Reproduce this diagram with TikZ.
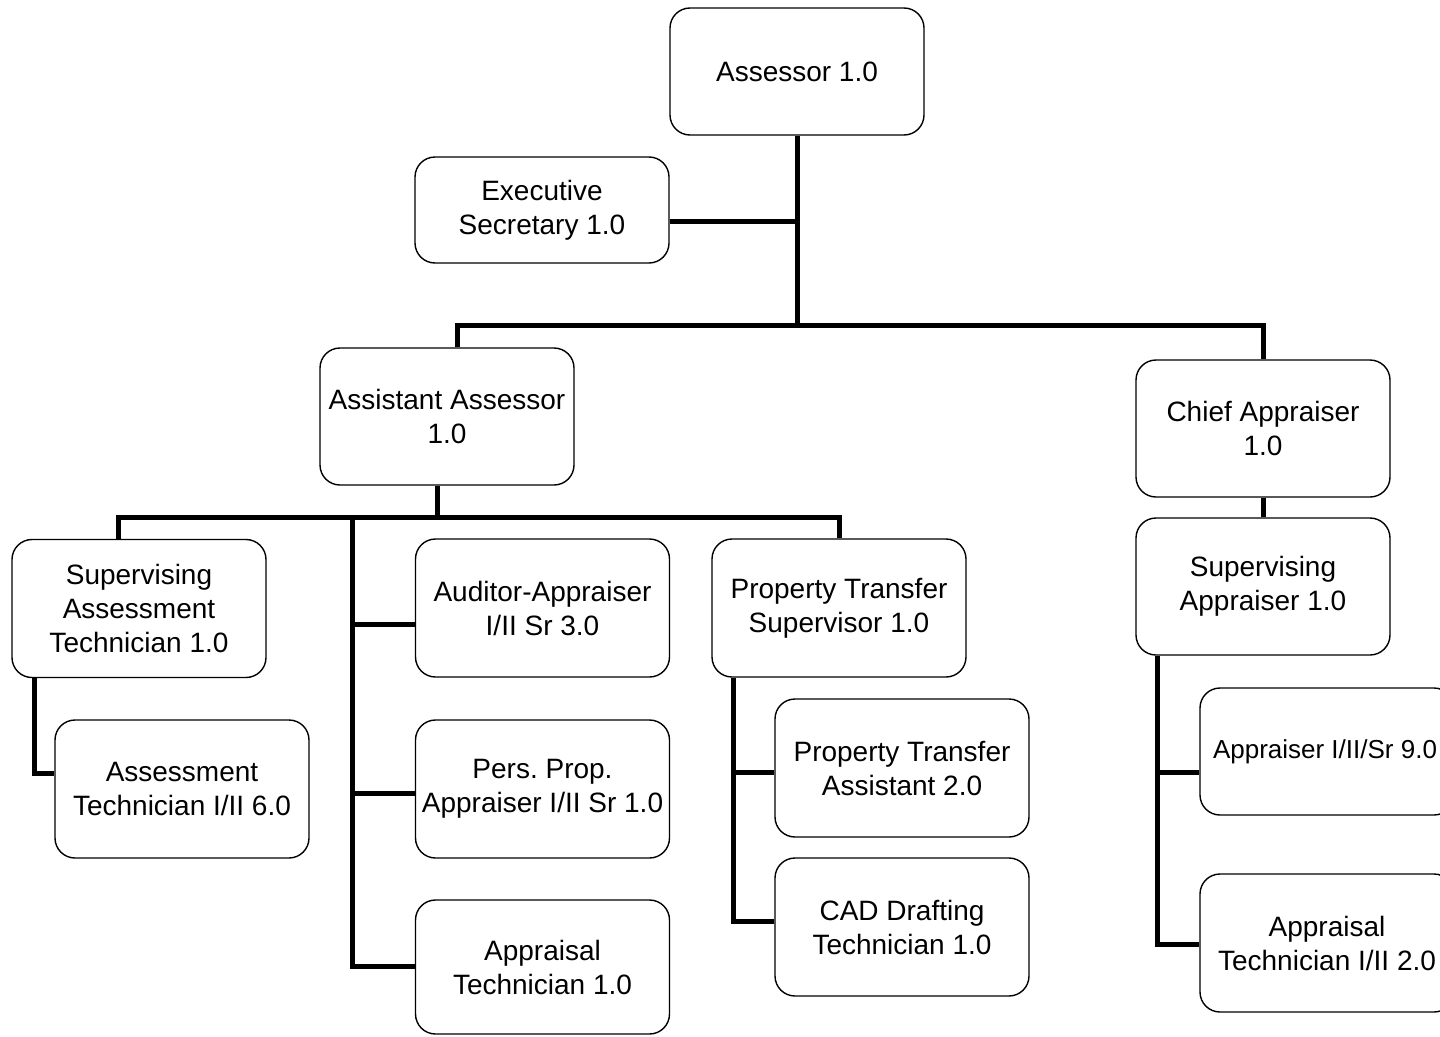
\documentclass[tikz,border=0pt]{standalone}
\usepackage{fontspec}
\setmainfont{Liberation Sans}
\frenchspacing
\begin{document}
\begin{tikzpicture}[x=1pt,y=-1pt,
  box/.style={draw=black,line width=1.4pt,rounded corners=20pt,fill=white,
    minimum width=254pt,inner sep=0pt,align=center,
    font=\fontsize{28}{34}\selectfont},
  conn/.style={draw=black,line width=5pt}]
\clip (0,0) rectangle (1440,1036);
\fill[white] (0,0) rectangle (1440,1036);
% boxes
\node[box,minimum height=127pt] (assessor) at (797,71.5) {Assessor 1.0};
\node[box,minimum height=106pt] (exec) at (542,210) {Executive\\Secretary 1.0};
\node[box,minimum height=137pt] (assist) at (447,416.5) {Assistant Assessor\\1.0};
\node[box,minimum height=137pt] (chief) at (1263,428.5) {Chief Appraiser\\1.0};
\node[box,minimum height=137pt] (supappr) at (1263,586.5) {Supervising\\Appraiser 1.0};
\node[box,minimum height=138pt] (supassess) at (139,608.5) {Supervising\\Assessment\\Technician 1.0};
\node[box,minimum height=138pt] (auditor) at (542.5,608) {Auditor-Appraiser\\I/II Sr 3.0};
\node[box,minimum height=138pt] (assesstech) at (182,789) {Assessment\\Technician I/II 6.0};
\node[box,minimum height=138pt] (persprop) at (542.5,789) {Pers. Prop.\\Appraiser I/II Sr 1.0};
\node[box,minimum height=134pt] (apptech) at (542.5,967) {Appraisal\\Technician 1.0};
\node[box,minimum height=138pt] (ptsup) at (839,608) {Property Transfer\\Supervisor 1.0};
\node[box,minimum height=138pt] (ptassist) at (902,768) {Property Transfer\\Assistant 2.0};
\node[box,minimum height=138pt] (cad) at (902,927) {CAD Drafting\\Technician 1.0};
\node[box,minimum height=127pt] (appraiser) at (1327,751.5) {};
\node[font=\fontsize{26}{32}\selectfont,inner sep=0pt] (appraisertext) at (1325,751.5) {Appraiser I/II/Sr 9.0};
\node[box,minimum height=138pt] (apptech2) at (1327,943) {Appraisal\\Technician I/II 2.0};
% junctions
\coordinate (j1) at (797,325);
\coordinate (j2) at (437,517);
\coordinate (j3) at (352,517);
% connectors
\draw[conn] (assessor.south) -- (j1);
\draw[conn] ([yshift=-11pt]exec.east) -- ([yshift=-11pt]exec.east -| j1);
\draw[conn] ([xshift=10pt]assist.north) |- (j1) -| (chief.north);
\draw[conn] ([xshift=-10pt]assist.south) -- (j2);
\draw[conn] ([xshift=-21pt]supassess.north) |- (j2) -| (ptsup.north);
\draw[conn] (j3) |- ([yshift=1pt]apptech.west);
\draw[conn] ([yshift=-16pt]auditor.west) -- ([yshift=-16pt]auditor.west -| j3);
\draw[conn] ([yshift=-4pt]persprop.west) -- ([yshift=-4pt]persprop.west -| j3);
\draw[conn] ([xshift=-105pt]supassess.south) |- ([yshift=16pt]assesstech.west);
\draw[conn] ([xshift=-106pt]ptsup.south) |- ([yshift=6pt]cad.west);
\draw[conn] ([yshift=-4pt]ptassist.west) -- +(-42pt,0);
\draw[conn] (chief.south) -- (supappr.north);
\draw[conn] ([xshift=-106pt]supappr.south) |- ([yshift=-1pt]apptech2.west);
\draw[conn] ([yshift=-21pt]appraiser.west) -- +(-43pt,0);
\end{tikzpicture}
\end{document}
